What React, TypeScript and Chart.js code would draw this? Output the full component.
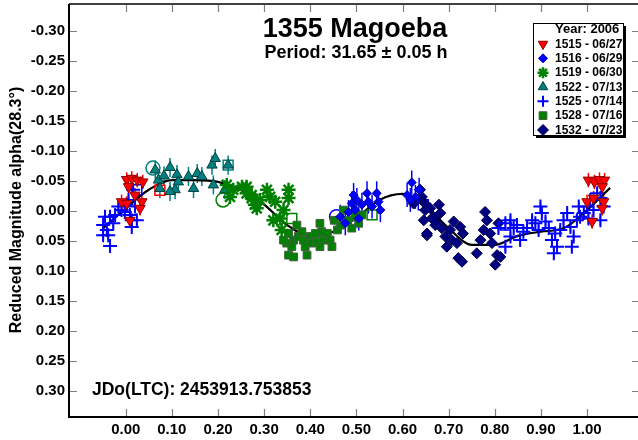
import React, { useEffect, useRef } from "react";
import { Chart, registerables } from "chart.js";
import { drawPoint } from "chart.js/helpers";

Chart.register(...registerables);

const FONT = "'Liberation Sans', Arial, Helvetica, sans-serif";

const TITLE = "1355 Magoeba";
const SUBTITLE = "Period: 31.65 ± 0.05 h";
const JD_TEXT = "JDo(LTC): 2453913.753853";
const Y_TITLE = "Reduced Magnitude alpha(28.3°)";
const LEGEND_HEADER = "Year: 2006";

const X_TICKS = [0.0, 0.1, 0.2, 0.3, 0.4, 0.5, 0.6, 0.7, 0.8, 0.9, 1.0];
const Y_TICKS = [-0.3, -0.25, -0.2, -0.15, -0.1, -0.05, 0.0, 0.05, 0.1, 0.15, 0.2, 0.25, 0.3];
const X_MIN = -0.123;
const X_MAX = 1.1105;
const Y_MIN = -0.3445;
const Y_MAX = 0.3438;

// [phase, reduced magnitude]
const S1515: number[][] = [
  [0.002, -0.052], [0.013, -0.054], [0.025, -0.051], [0.037, -0.048], [0.006, -0.040],
  [-0.009, -0.015], [0.002, -0.012], [0.035, -0.015], [0.031, -0.004], [0.009, 0.016],
  [0.020, -0.026],
  [1.003, -0.051], [1.016, -0.048], [1.027, -0.052], [1.038, -0.051], [1.033, -0.040],
  [1.000, -0.015], [1.036, -0.015], [1.033, -0.004], [1.014, -0.021], [1.011, 0.018],
];

const S1516: number[][] = [
  [0.465, 0.010], [0.476, 0.021], [0.483, 0.002], [0.490, -0.012], [0.494, -0.026],
  [0.501, -0.018], [0.497, -0.001], [0.505, 0.013], [0.512, -0.010], [0.523, -0.029],
  [0.526, -0.015], [0.534, -0.007], [0.544, -0.029], [0.548, -0.015], [0.552, -0.001],
  [0.610, -0.026], [0.620, -0.047], [0.628, -0.023], [0.636, -0.035], [0.617, -0.018],
];

const S1519: number[][] = [
  [0.219, -0.043], [0.233, -0.035], [0.252, -0.040], [0.262, -0.029], [0.273, -0.021],
  [0.284, -0.004], [0.226, -0.023], [0.262, -0.040], [0.273, -0.026], [0.280, -0.010],
  [0.306, -0.035], [0.313, -0.023], [0.324, -0.015], [0.353, -0.035], [0.353, -0.021],
  [0.342, -0.001], [0.335, 0.013], [0.338, 0.032], [0.320, 0.016], [0.291, -0.018],
];

const S1522: number[][] = [
  [0.064, -0.068], [0.071, -0.051], [0.083, -0.058], [0.096, -0.072], [0.111, -0.060],
  [0.107, -0.035], [0.096, -0.032], [0.114, -0.048], [0.136, -0.057], [0.147, -0.037],
  [0.155, -0.062], [0.165, -0.057], [0.187, -0.076], [0.190, -0.043], [0.194, -0.087],
  [0.215, -0.035], [0.074, -0.037], [0.222, -0.076],
];

const S1525: number[][] = [
  [-0.045, 0.010], [-0.034, 0.010], [-0.049, 0.024], [-0.041, 0.032], [-0.027, 0.021],
  [-0.023, 0.007], [-0.016, -0.007], [-0.009, -0.001], [0.002, -0.010], [-0.002, 0.002],
  [0.006, -0.018], [0.009, 0.007], [0.013, 0.016], [0.020, -0.007], [0.024, 0.016],
  [0.013, 0.027], [-0.038, 0.041], [-0.034, 0.059], [-0.049, 0.041], [0.016, -0.035],
  [0.808, 0.029], [0.823, 0.021], [0.834, 0.016], [0.841, 0.029], [0.855, 0.049],
  [0.862, 0.035], [0.870, 0.029], [0.881, 0.016], [0.888, 0.021], [0.895, 0.032],
  [0.899, -0.007], [0.902, 0.004], [0.910, 0.018], [0.917, 0.029], [0.924, 0.049],
  [0.928, 0.071], [0.931, 0.038], [0.935, 0.060], [0.942, 0.032], [0.949, 0.016],
  [0.957, 0.004], [0.964, 0.027], [0.967, 0.060], [0.971, 0.043], [0.978, 0.016],
  [0.982, -0.007], [0.985, 0.010], [0.993, 0.004], [1.000, -0.007], [1.003, 0.013],
  [1.007, -0.018], [1.014, -0.001], [1.022, -0.029], [1.029, 0.016], [1.036, -0.007],
  [1.029, -0.021], [0.823, 0.060], [0.834, 0.043], [0.848, 0.024],
];

const S1528: number[][] = [
  [0.353, 0.038], [0.364, 0.049], [0.349, 0.054], [0.360, 0.060], [0.353, 0.074],
  [0.364, 0.077], [0.374, 0.043], [0.382, 0.035], [0.385, 0.049], [0.389, 0.060],
  [0.393, 0.074], [0.400, 0.043], [0.403, 0.054], [0.411, 0.038], [0.414, 0.052],
  [0.421, 0.021], [0.425, 0.035], [0.429, 0.049], [0.421, 0.060], [0.437, 0.038],
  [0.443, 0.049], [0.447, 0.060], [0.452, 0.016], [0.459, 0.032], [0.466, 0.024],
  [0.472, -0.001], [0.481, 0.016], [0.490, 0.029], [0.497, 0.010], [0.505, 0.021],
  [0.512, 0.007], [0.371, 0.024], [0.342, 0.049],
];

const S1532: number[][] = [
  [0.638, -0.035], [0.649, -0.012], [0.660, -0.004], [0.646, 0.016], [0.653, 0.041],
  [0.667, 0.010], [0.675, 0.021], [0.682, 0.004], [0.685, 0.029], [0.693, 0.043],
  [0.696, 0.060], [0.703, 0.032], [0.711, 0.018], [0.707, 0.049], [0.718, 0.054],
  [0.725, 0.027], [0.731, 0.038], [0.721, 0.079], [0.729, 0.085], [0.761, 0.071],
  [0.769, 0.049], [0.776, 0.032], [0.779, 0.002], [0.783, 0.016], [0.790, 0.038],
  [0.794, 0.054], [0.805, 0.074], [0.812, 0.077], [0.801, 0.090], [0.808, 0.021],
  [0.679, -0.010], [0.624, -0.012], [0.642, -0.023], [0.649, -0.001], [0.653, 0.038],
  [0.664, 0.013], [0.671, 0.024],
];

// open session-start markers: [phase, mag]
const OPEN_POINTS: number[][] = [
  [0.074, -0.034], [0.059, -0.071], [0.222, -0.076], [0.211, -0.018], [0.360, 0.013],
  [0.534, 0.007], [0.457, 0.010], [0.645, -0.010], [0.823, 0.024], [0.024, -0.035],
];
const OPEN_COLORS = ["#ff0000", "#008080", "#008080", "#008000", "#008000", "#008000", "#0000ff", "#0000ff", "#0000ff", "#0000ff"];
const OPEN_STYLES = ["rect", "circle", "rect", "circle", "rect", "rect", "circle", "rect", "rect", "rect"];

// Fourier fit curve
const FIT_PHASE = [-0.05, 0.0, 0.05, 0.1, 0.15, 0.2, 0.25, 0.3, 0.35, 0.4, 0.45, 0.5, 0.55, 0.6, 0.65, 0.7, 0.75, 0.8, 0.85, 0.9, 0.95, 1.0, 1.05];
const FIT_MAG = [0.030, -0.004, -0.035, -0.051, -0.051, -0.048, -0.035, -0.010, 0.024, 0.042, 0.035, 0.012, -0.018, -0.028, -0.008, 0.029, 0.057, 0.057, 0.042, 0.035, 0.029, -0.001, -0.038];

type Ser = {
  label: string; data: number[][]; style: string; rotation: number; radius: number;
  fill: string; border: string; bw: number; err: number;
};

const SERIES: Ser[] = [
  { label: "1515 - 06/27", data: S1515, style: "triangle", rotation: 180, radius: 6, fill: "#ff0000", border: "#900000", bw: 1, err: 0.012 },
  { label: "1516 - 06/29", data: S1516, style: "rectRot", rotation: 0, radius: 4.5, fill: "#0000ff", border: "#0000a0", bw: 1, err: 0.02 },
  { label: "1519 - 06/30", data: S1519, style: "star", rotation: 0, radius: 7, fill: "#008000", border: "#008000", bw: 2.5, err: 0.008 },
  { label: "1522 - 07/13", data: S1522, style: "triangle", rotation: 0, radius: 6, fill: "#008080", border: "#004040", bw: 1, err: 0.016 },
  { label: "1525 - 07/14", data: S1525, style: "cross", rotation: 0, radius: 7, fill: "#0000ff", border: "#0000ff", bw: 2, err: 0.008 },
  { label: "1528 - 07/16", data: S1528, style: "rect", rotation: 0, radius: 5.5, fill: "#008000", border: "#406040", bw: 1, err: 0.006 },
  { label: "1532 - 07/23", data: S1532, style: "rectRot", rotation: 0, radius: 5.5, fill: "#000080", border: "#000050", bw: 1, err: 0.006 },
];

const fmt = (v: number) => {
  const r = Math.round(v * 100) / 100;
  return (Math.abs(r) < 1e-9 ? 0 : r).toFixed(2);
};

const decorPlugin = {
  id: "decor",
  beforeDatasetsDraw(chart: any) {
    const ctx = chart.ctx;
    const xs = chart.scales.x;
    const ys = chart.scales.y;
    // error bars
    ctx.save();
    ctx.lineWidth = 1.5;
    SERIES.forEach((s) => {
      ctx.strokeStyle = s.fill;
      s.data.forEach((p) => {
        const x = xs.getPixelForValue(p[0]);
        ctx.beginPath();
        ctx.moveTo(x, ys.getPixelForValue(p[1] - s.err));
        ctx.lineTo(x, ys.getPixelForValue(p[1] + s.err));
        ctx.stroke();
      });
    });
    ctx.restore();
  },
  afterDraw(chart: any) {
    const ctx = chart.ctx;
    const a = chart.chartArea;
    const xs = chart.scales.x;
    const ys = chart.scales.y;
    ctx.save();
    // axis frame
    ctx.strokeStyle = "#000";
    ctx.lineWidth = 2;
    ctx.beginPath();
    ctx.moveTo(a.left, a.top);
    ctx.lineTo(a.left, a.bottom);
    ctx.lineTo(a.right, a.bottom);
    ctx.stroke();
    ctx.lineWidth = 1.5;
    ctx.beginPath();
    ctx.moveTo(a.left, a.top);
    ctx.lineTo(a.right, a.top);
    ctx.stroke();
    // ticks
    ctx.strokeStyle = "#808080";
    ctx.lineWidth = 1.2;
    X_TICKS.forEach((v) => {
      const x = Math.round(xs.getPixelForValue(v)) + 0.5;
      ctx.beginPath();
      ctx.moveTo(x, a.bottom - 1);
      ctx.lineTo(x, a.bottom - 8);
      ctx.moveTo(x, a.top + 1);
      ctx.lineTo(x, a.top + 8);
      ctx.stroke();
    });
    Y_TICKS.forEach((v) => {
      const y = Math.round(ys.getPixelForValue(v)) + 0.5;
      ctx.beginPath();
      ctx.moveTo(a.left + 1, y);
      ctx.lineTo(a.left + 8, y);
      ctx.moveTo(a.right, y);
      ctx.lineTo(a.right - 6, y);
      ctx.stroke();
    });
    // tick labels
    ctx.fillStyle = "#000";
    ctx.font = `bold 15px ${FONT}`;
    ctx.textBaseline = "middle";
    ctx.textAlign = "center";
    X_TICKS.forEach((v) => {
      ctx.fillText(fmt(v), xs.getPixelForValue(v), a.bottom + 13);
    });
    ctx.textAlign = "right";
    Y_TICKS.forEach((v) => {
      ctx.fillText(fmt(v), a.left - 4, ys.getPixelForValue(v) + 0.5);
    });
    // titles
    ctx.textAlign = "center";
    ctx.font = `bold 27px ${FONT}`;
    ctx.fillText(TITLE, 355, 30);
    ctx.font = `bold 18px ${FONT}`;
    ctx.fillText(SUBTITLE, 356, 53);
    ctx.textAlign = "left";
    ctx.font = `bold 17.5px ${FONT}`;
    ctx.fillText(JD_TEXT, 92, 390);
    // y title
    ctx.save();
    ctx.translate(17, 210);
    ctx.rotate(-Math.PI / 2);
    ctx.textAlign = "center";
    ctx.font = `bold 16px ${FONT}`;
    ctx.fillText(Y_TITLE, 0, 0);
    ctx.restore();
    // legend
    const bx = 533, by = 23, bw = 90, bh = 112;
    ctx.fillStyle = "#000";
    ctx.fillRect(bx + 3, by + 3, bw, bh);
    ctx.fillStyle = "#fff";
    ctx.fillRect(bx, by, bw, bh);
    ctx.strokeStyle = "#000";
    ctx.lineWidth = 1;
    ctx.strokeRect(bx + 0.5, by + 0.5, bw, bh);
    ctx.fillStyle = "#000";
    ctx.textAlign = "left";
    ctx.font = `bold 13px ${FONT}`;
    ctx.fillText(LEGEND_HEADER, 555, 29);
    ctx.font = `bold 12px ${FONT}`;
    SERIES.forEach((s, i) => {
      const y = 44 + i * 14.33;
      ctx.save();
      ctx.fillStyle = s.fill;
      ctx.strokeStyle = s.border;
      ctx.lineWidth = s.bw;
      drawPoint(ctx, { pointStyle: s.style, rotation: s.rotation, radius: Math.min(s.radius, 5.5), borderWidth: s.bw } as any, 543, y);
      ctx.restore();
      ctx.fillStyle = "#000";
      ctx.fillText(s.label, 555, y + 0.5);
    });
    ctx.restore();
  },
};

export default function App() {
  const ref = useRef<HTMLCanvasElement | null>(null);
  useEffect(() => {
    document.body.style.margin = "0";
    const canvas = ref.current!;
    const datasets: any[] = SERIES.map((s) => ({
      type: "scatter",
      label: s.label,
      data: s.data.map((p) => ({ x: p[0], y: p[1] })),
      pointStyle: s.style,
      rotation: s.rotation,
      pointRadius: s.radius,
      backgroundColor: s.fill,
      borderColor: s.border,
      borderWidth: s.bw,
      showLine: false,
    }));
    datasets.push({
      type: "scatter",
      label: "open",
      data: OPEN_POINTS.map((p) => ({ x: p[0], y: p[1] })),
      pointStyle: OPEN_STYLES,
      pointRadius: 7,
      backgroundColor: "rgba(0,0,0,0)",
      borderColor: OPEN_COLORS,
      borderWidth: 1.5,
      showLine: false,
    });
    datasets.push({
      type: "line",
      label: "fit",
      data: FIT_PHASE.map((x, i) => ({ x, y: FIT_MAG[i] })),
      borderColor: "#000",
      borderWidth: 2.2,
      pointRadius: 0,
      fill: false,
      cubicInterpolationMode: "monotone",
    });
    const chart = new Chart(canvas, {
      type: "scatter",
      data: { datasets },
      plugins: [decorPlugin],
      options: {
        responsive: false,
        animation: false,
        events: [],
        layout: { autoPadding: false, padding: { top: 4, left: 0, right: 0, bottom: 0 } },
        plugins: { legend: { display: false }, tooltip: { enabled: false }, title: { display: false } },
        scales: {
          x: {
            type: "linear",
            min: X_MIN,
            max: X_MAX,
            afterFit: (s: any) => { s.height = 23; s.paddingLeft = 0; s.paddingRight = 0; },
            grid: { display: false },
            border: { display: false },
            ticks: { display: false },
          },
          y: {
            type: "linear",
            reverse: true,
            min: Y_MIN,
            max: Y_MAX,
            afterFit: (s: any) => { s.width = 69; s.paddingTop = 0; s.paddingBottom = 0; },
            grid: { display: false },
            border: { display: false },
            ticks: { display: false },
          },
        },
      } as any,
    });
    return () => chart.destroy();
  }, []);
  return (
    <div style={{ position: "fixed", left: 0, top: 0, width: 638, height: 440, background: "#fff" }}>
      <canvas ref={ref} width={638} height={440} style={{ width: 638, height: 440, display: "block" }} />
    </div>
  );
}
